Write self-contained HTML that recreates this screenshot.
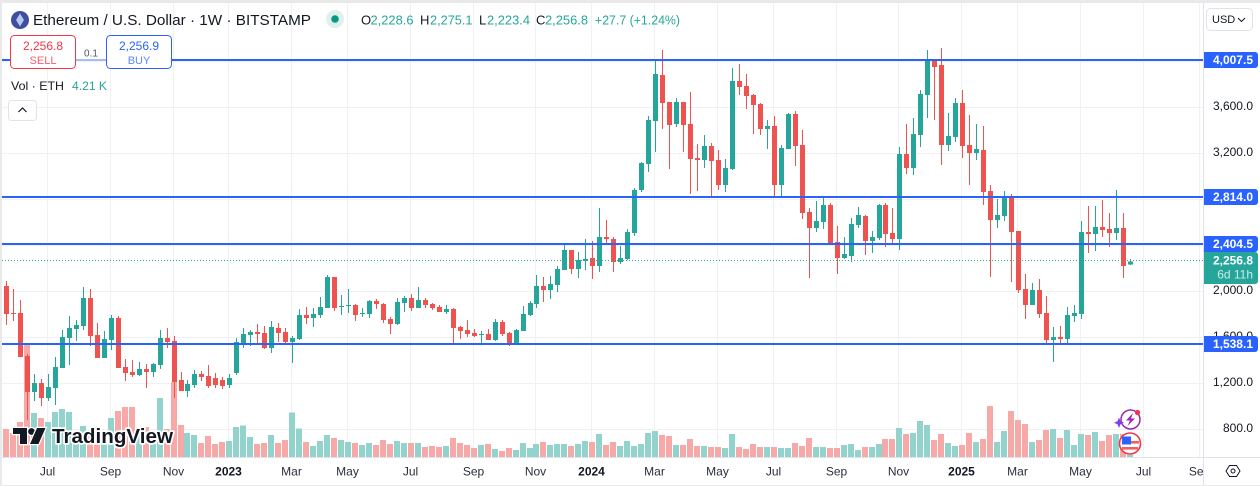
<!DOCTYPE html>
<html lang="en">
<head>
<meta charset="utf-8">
<title>Ethereum / U.S. Dollar 1W chart</title>
<style>
html,body{margin:0;padding:0;background:#fff;width:1260px;height:486px;overflow:hidden}
svg{display:block;font-family:"Liberation Sans",Arial,sans-serif}
text{white-space:pre}
</style>
</head>
<body>
<svg id="chart" xmlns="http://www.w3.org/2000/svg" width="1260" height="486" viewBox="0 0 1260 486">
  <defs>
    <clipPath id="pane"><rect x="2" y="3" width="1201" height="454"/></clipPath>
    <clipPath id="timeClip"><rect x="2" y="458" width="1201" height="27"/></clipPath>
  </defs>
  <rect x="0" y="0" width="1260" height="486" fill="#ffffff"/>
  <g id="grid" shape-rendering="crispEdges"></g>
  <g id="volumes" clip-path="url(#pane)" shape-rendering="crispEdges"></g>
  <g id="candles" clip-path="url(#pane)" shape-rendering="crispEdges"></g>
  <g id="levels" clip-path="url(#pane)" shape-rendering="crispEdges"></g>
  <line id="lastLine" x1="2" x2="1203" stroke="#26a69a" stroke-width="1" stroke-dasharray="1 2" shape-rendering="crispEdges"/>

  <g>
    <g fill="#131722" stroke="#ffffff" stroke-width="2.5" paint-order="stroke">
      <path d="M13 428H27V444H20V434H13Z"/>
      <circle cx="31.5" cy="431.5" r="3.4"/>
      <path d="M37 428H45.5L38.5 444H30Z"/>
    </g>
    <text x="52" y="443" font-size="20.5" font-weight="700" textLength="121" lengthAdjust="spacingAndGlyphs" fill="#131722" stroke="#ffffff" stroke-width="3.5" paint-order="stroke" stroke-linejoin="round">TradingView</text>
  </g>

  <g>
    <circle cx="1130.5" cy="419.5" r="9.5" fill="#ffffff" fill-opacity="0.7" stroke="#9c27b0" stroke-width="1.5"/>
    <path d="M1133 413L1126 420.5H1130L1127.5 426L1135 418.5H1131Z" fill="#9c27b0"/>
    <path d="M1119 417.5L1120.5 421.2L1124 422.7L1120.5 424.2L1119 428L1117.5 424.2L1114 422.7L1117.5 421.2Z" fill="#7b3ff2"/>
    <circle cx="1137.5" cy="412.5" r="2.6" fill="#f23645"/>
  </g>
  <g>
    <circle cx="1130" cy="443.5" r="10.5" fill="#ffffff" stroke="#f23645" stroke-width="1.6"/>
    <rect x="1130" y="441" width="9" height="2.6" fill="#f0605e"/>
    <rect x="1122" y="447" width="16" height="2.6" fill="#f0605e"/>
    <rect x="1122" y="436.5" width="9" height="8" fill="#2962ff"/>
  </g>

  <rect x="1204" y="3" width="56" height="454" fill="#ffffff"/>
  <g id="priceTicks"></g>
  <g id="timeTicks" clip-path="url(#timeClip)"></g>
  <g id="badges"></g>

  <g shape-rendering="crispEdges">
    <rect x="0" y="0" width="1260" height="3" fill="#e9e9ea"/>
    <rect x="0" y="0" width="2" height="486" fill="#e9e9ea"/>
    <rect x="0" y="485" width="1260" height="1" fill="#e9e9ea"/>
    <rect x="1203" y="3" width="1" height="482" fill="#e0e3eb"/>
    <rect x="2" y="457" width="1258" height="1" fill="#e0e3eb"/>
  </g>

  <g fill="none" stroke="#131722" stroke-width="1">
    <path d="M1226 471L1229.5 465.5H1236.5L1240 471L1236.5 476.5H1229.5Z"/>
    <circle cx="1233" cy="471" r="2"/>
  </g>

  <g>
    <rect x="1206.5" y="8.5" width="46" height="22" rx="4" fill="#ffffff" stroke="#e0e3eb"/>
    <text x="1212" y="23" font-size="11" fill="#131722">USD</text>
    <path d="M1238 18L1241.5 21.5L1245 18" fill="none" stroke="#131722"/>
  </g>

  <g>
    <circle cx="20" cy="20" r="9" fill="#3f4f9f"/>
    <path d="M20 13.5L24 20L20 26.5L16 20Z" fill="#b9c6ee"/>
    <text x="33" y="25" font-size="15" fill="#131722" textLength="278" lengthAdjust="spacingAndGlyphs">Ethereum / U.S. Dollar · 1W · BITSTAMP</text>
    <circle cx="335" cy="19" r="9" fill="#dff1ee"/>
    <circle cx="335" cy="19" r="3.8" fill="#089981"/>
    <text x="361" y="24.5" font-size="13" fill="#131722">O</text>
    <text x="370.5" y="24.5" font-size="13" fill="#26a69a" textLength="43" lengthAdjust="spacingAndGlyphs">2,228.6</text>
    <text x="420" y="24.5" font-size="13" fill="#131722">H</text>
    <text x="430" y="24.5" font-size="13" fill="#26a69a" textLength="42.5" lengthAdjust="spacingAndGlyphs">2,275.1</text>
    <text x="479" y="24.5" font-size="13" fill="#131722">L</text>
    <text x="487" y="24.5" font-size="13" fill="#26a69a" textLength="43" lengthAdjust="spacingAndGlyphs">2,223.4</text>
    <text x="536" y="24.5" font-size="13" fill="#131722">C</text>
    <text x="545" y="24.5" font-size="13" fill="#26a69a" textLength="43" lengthAdjust="spacingAndGlyphs">2,256.8</text>
    <text x="595" y="24.5" font-size="13" fill="#26a69a" textLength="85" lengthAdjust="spacingAndGlyphs">+27.7 (+1.24%)</text>

    <rect x="76" y="59" width="30" height="2" fill="#a5bdf8" shape-rendering="crispEdges"/>
    <g>
      <rect x="10.5" y="35.5" width="65" height="33" rx="4" fill="#ffffff" stroke="#f23645"/>
      <text x="43" y="50" font-size="12" text-anchor="middle" fill="#f23645">2,256.8</text>
      <text x="43" y="64" font-size="11" text-anchor="middle" fill="#f5616d">SELL</text>
    </g>
    <text x="91" y="56.5" font-size="10" text-anchor="middle" fill="#4c525e">0.1</text>
    <g>
      <rect x="106.5" y="35.5" width="65" height="33" rx="4" fill="#ffffff" stroke="#2962ff"/>
      <text x="139" y="50" font-size="12" text-anchor="middle" fill="#2962ff">2,256.9</text>
      <text x="139" y="64" font-size="11" text-anchor="middle" fill="#5b87ff">BUY</text>
    </g>

    <text x="11" y="90" font-size="12" fill="#131722" textLength="53" lengthAdjust="spacingAndGlyphs">Vol · ETH</text>
    <text x="72" y="90" font-size="12" fill="#26a69a" textLength="35" lengthAdjust="spacingAndGlyphs">4.21 K</text>
    <g>
      <rect x="8.5" y="100.5" width="28" height="20" rx="3" fill="#ffffff" stroke="#e0e3eb"/>
      <path d="M18.5 112L22.5 108L26.5 112" fill="none" stroke="#131722" stroke-width="1.2"/>
    </g>
  </g>
</svg>
<script>
const opens = [
2042,1807,1807,1433,1120,1198,1067,1154,1328,1589,
1668,1694,1937,1615,1415,1572,1763,1337,1294,1267,
1320,1294,1354,1589,1563,1224,1128,1181,1276,1259,
1242,1225,1181,1285,1537,1615,1642,1633,1502,1676,
1642,1555,1581,1790,1763,1790,1850,2120,1859,1868,
1876,1798,1798,1911,1885,1755,1711,1894,1937,1850,
1920,1885,1859,1816,1842,1685,1659,1633,1615,1624,
1572,1729,1633,1537,1650,1790,1885,2042,2007,2050,
2181,2355,2190,2259,2285,2216,2468,2451,2251,2277,
2503,2876,3102,3476,3876,3642,3450,3642,3450,3154,
3137,3259,3137,2920,3059,3824,3781,3703,3624,3407,
3433,2920,3233,3537,3267,2686,2546,2599,2747,2425,
2285,2303,2573,2651,2433,2459,2747,2503,2450,3189,
3067,3355,3703,4007,3963,3267,3337,3633,3267,3198,
3224,2867,2615,2650,2815,2519,2016,1877,2007,1807,
1572,1598,1581,1781,1798,2512,2494,2555,2538,2503,2546,2228.6];
const highs = [
2085,2016,1920,1450,1276,1233,1276,1424,1659,1781,
1746,2033,2016,1720,1650,1790,1781,1407,1398,1381,
1363,1372,1659,1676,1607,1294,1224,1311,1302,1354,
1286,1251,1277,1589,1676,1659,1711,1694,1737,1720,
1676,1607,1842,1859,1850,1946,2137,2120,1964,2016,
1885,1850,1920,1929,1894,1772,1937,1955,1972,2033,
1937,1894,1877,1877,1850,1694,1746,1668,1650,1668,
1755,1746,1642,1668,1868,1911,2137,2120,2129,2216,
2407,2355,2338,2451,2433,2720,2616,2468,2390,2538,
2894,3120,3520,4007,4094,3642,3676,3642,3729,3276,
3354,3285,3224,3146,3937,3972,3885,3711,3633,3485,
3520,3267,3546,3563,3398,2720,2781,2816,2764,2564,
2468,2633,2729,2660,2520,2755,2764,2720,3250,3450,
3502,3746,4094,4007,4111,3546,3676,3746,3529,3450,
3433,2920,2798,2867,2841,2519,2146,2068,2103,1955,
1685,1694,1859,1876,2607,2738,2738,2790,2677,2877,2677,2275.1];
const lows = [
1703,1737,1424,876,1041,998,1041,1007,1328,1354,
1563,1659,1520,1415,1415,1485,1328,1215,1250,1259,
1154,1250,1320,1502,1067,1128,1076,1154,1215,1154,
1155,1146,1155,1268,1502,1520,1537,1494,1459,1555,
1537,1372,1572,1711,1685,1763,1850,1824,1790,1807,
1737,1772,1763,1842,1720,1624,1702,1816,1824,1850,
1850,1833,1816,1798,1537,1581,1598,1598,1528,1572,
1563,1607,1520,1537,1650,1781,1850,1903,1929,1990,
2181,2146,2111,2181,2103,2164,2416,2164,2233,2268,
2477,2859,3033,3207,3407,3059,3424,3207,2841,2867,
3067,2815,2876,2859,3050,3703,3581,3363,3355,3233,
2806,2824,3233,3085,2625,2111,2512,2538,2399,2146,
2277,2251,2546,2311,2329,2442,2381,2407,2354,3015,
3007,3250,3502,3485,3093,3215,3294,3154,2920,3137,
2746,2119,2545,2606,2076,1981,1755,1877,1763,1537,
1381,1537,1537,1729,1755,2329,2346,2468,2381,2442,2111,2223.4];
const closes = [
1798,1801,1424,1120,1198,1067,1163,1337,1598,1676,
1702,1937,1607,1415,1581,1763,1328,1285,1267,1320,
1294,1363,1589,1555,1207,1128,1189,1276,1250,1172,
1181,1172,1242,1555,1624,1642,1624,1502,1685,1633,
1555,1589,1790,1763,1798,1859,2120,1850,1868,1876,
1790,1807,1911,1885,1746,1711,1903,1937,1850,1920,
1877,1850,1816,1842,1676,1650,1624,1607,1624,1572,
1729,1624,1537,1659,1798,1894,2042,2007,2059,2190,
2355,2190,2268,2277,2216,2468,2451,2251,2285,2512,
2876,3111,3485,3885,3633,3441,3642,3441,3146,3137,
3259,3128,2920,3067,3824,3772,3694,3615,3407,3433,
2920,3241,3537,3259,2677,2546,2607,2747,2407,2285,
2320,2581,2660,2433,2468,2747,2494,2451,3189,3067,
3363,3711,4007,3946,3267,3346,3633,3259,3198,3233,
2859,2615,2659,2815,2511,2007,1877,2007,1798,1572,
1598,1581,1790,1807,2512,2494,2555,2529,2503,2546,2216,2256.8];
const volumes = [
59,50,74,238,92,82,74,95,101,95,
50,65,57,55,46,82,97,105,105,57,
63,46,124,59,158,67,50,46,29,44,
27,32,34,63,66,42,27,29,46,29,
36,93,60,32,23,34,46,40,36,32,
29,25,29,25,36,27,34,29,29,29,
21,23,21,23,40,29,25,19,25,27,
17,13,19,15,29,19,27,32,25,27,
27,23,27,34,32,48,25,32,23,34,
23,27,50,55,46,44,25,25,38,23,
23,21,21,19,48,21,17,27,21,21,
21,19,19,29,23,40,21,21,19,19,
25,27,15,21,21,27,38,38,61,48,
50,76,67,36,48,29,23,25,50,32,
38,107,32,55,97,78,69,32,36,57,
59,40,57,25,48,46,52,34,46,48,48,4.21];
const priceTicks = [3600,3200,2000,1600,1200,800];
const priceTickLabels = ["3,600.0","3,200.0","2,000.0","1,600.0","1,200.0","800.0"];
const gridPrices = [4000,3600,3200,2800,2400,2000,1600,1200,800];
const timeTickBars = [6,15,24,32,41,49,58,67,76,84,93,102,110,119,128,137,145,154,163,171];
const timeTickLabels = ["Jul","Sep","Nov","2023","Mar","May","Jul","Sep","Nov","2024","Mar","May","Jul","Sep","Nov","2025","Mar","May","Jul","Sep"];
const levelPrices = [4007.5,2814.0,2404.5,1538.1];
const levelLabels = ["4,007.5","2,814.0","2,404.5","1,538.1"];
const lastPrice = 2256.8;
const lastPriceLabel = "2,256.8";
const countdownLabel = "6d 11h";

const SVGNS = 'http://www.w3.org/2000/svg';
const UP = '#26a69a', DOWN = '#ef5350';
const UP_VOL = '#92d3cd', DOWN_VOL = '#f7a9a7';

function yScale(p){ return 60 + (4007.5 - p) * 0.115; }
function xScale(i){ return Math.floor(6.5 + 6.98 * i) + 0.5; }
function volHeight(v){ return v / 2.1; }
function mk(tag, parent, attrs){
  const el = document.createElementNS(SVGNS, tag);
  for (const k in attrs) el.setAttribute(k, attrs[k]);
  parent.appendChild(el);
  return el;
}

const gridG = document.getElementById('grid');
gridPrices.forEach(function(p){
  const y = Math.round(yScale(p)) + 0.5;
  const el = mk('line', gridG, {x1:2, x2:1203, y1:y, y2:y, stroke:'#f0f1f3'});
  
  
});
timeTickBars.forEach(function(b){
  const x = xScale(b) - 1;
  if (x > 1203) return;
  const el = mk('line', gridG, {x1:x, x2:x, y1:3, y2:457, stroke:'#f0f1f3'});
  
  
});

const volG = document.getElementById('volumes');
volumes.forEach(function(v, i){
  const h = volHeight(v);
  const up = closes[i] >= opens[i];
  const el = mk('rect', volG, {x:xScale(i)-3.5, y:457-h, width:6, height:h, fill: up ? UP_VOL : DOWN_VOL});
  
  
});

const candleG = document.getElementById('candles');
opens.forEach(function(o, i){
  const c = closes[i];
  const color = c >= o ? UP : DOWN;
  const x = xScale(i);
  const wick = mk('rect', candleG, {x:x-0.5, y:yScale(highs[i]), width:1, height:Math.max(1, yScale(lows[i]) - yScale(highs[i])), fill:color});
  
  
  const top = yScale(Math.max(o, c));
  const body = mk('rect', candleG, {x:x-2.5, y:top, width:5, height:Math.max(1, yScale(Math.min(o, c)) - top), fill:color});
  
  
});

const levelG = document.getElementById('levels');
levelPrices.forEach(function(p){
  const y = Math.round(yScale(p));
  const el = mk('rect', levelG, {x:2, y:y-1, width:1201, height:2, fill:'#2962ff'});
  
  
});

const lastY = Math.round(yScale(lastPrice)) - 0.5;
const lastLine = document.getElementById('lastLine');
lastLine.setAttribute('y1', lastY);
lastLine.setAttribute('y2', lastY);

const priceG = document.getElementById('priceTicks');
priceTicks.forEach(function(p, i){
  const el = mk('text', priceG, {x:1253, y:yScale(p)+3.2, 'font-size':12, 'text-anchor':'end', fill:'#131722'});
  
  
  el.textContent = priceTickLabels[i];
});

const timeG = document.getElementById('timeTicks');
timeTickBars.forEach(function(b, i){
  const lab = timeTickLabels[i];
  const isYear = /^\d+$/.test(lab);
  const attrs = {x:xScale(b)-1, y:475.5, 'font-size':12, 'text-anchor':'middle', fill: isYear ? '#131722' : '#2a2e39'};
  if (isYear) attrs['font-weight'] = 700;
  const el = mk('text', timeG, attrs);
  
  
  el.textContent = lab;
});

const badgeG = document.getElementById('badges');
function badgeBox(y, h, fill){
  const d = 'M1204 ' + y + 'H1255a3 3 0 0 1 3 3V' + (y + h - 3) + 'a3 3 0 0 1 -3 3H1204Z';
  const el = mk('path', badgeG, {d:d, fill:fill});
  
  
}
function badgeText(y, label, fill, weight){
  const el = mk('text', badgeG, {x:1253, y:y, 'font-size':12, 'font-weight':weight, 'text-anchor':'end', fill:fill});
  
  
  el.textContent = label;
}
badgeBox(Math.round(lastY) - 9, 32, '#26a69a');
badgeText(lastY + 4, lastPriceLabel, '#ffffff', 700);
badgeText(lastY + 18, countdownLabel, '#c9ebe7', 400);
levelPrices.forEach(function(p, i){
  const y = Math.round(yScale(p));
  badgeBox(y - 8, 16, '#2962ff');
  badgeText(y + 4, levelLabels[i], '#ffffff', 700);
});
</script>
</body>
</html>
